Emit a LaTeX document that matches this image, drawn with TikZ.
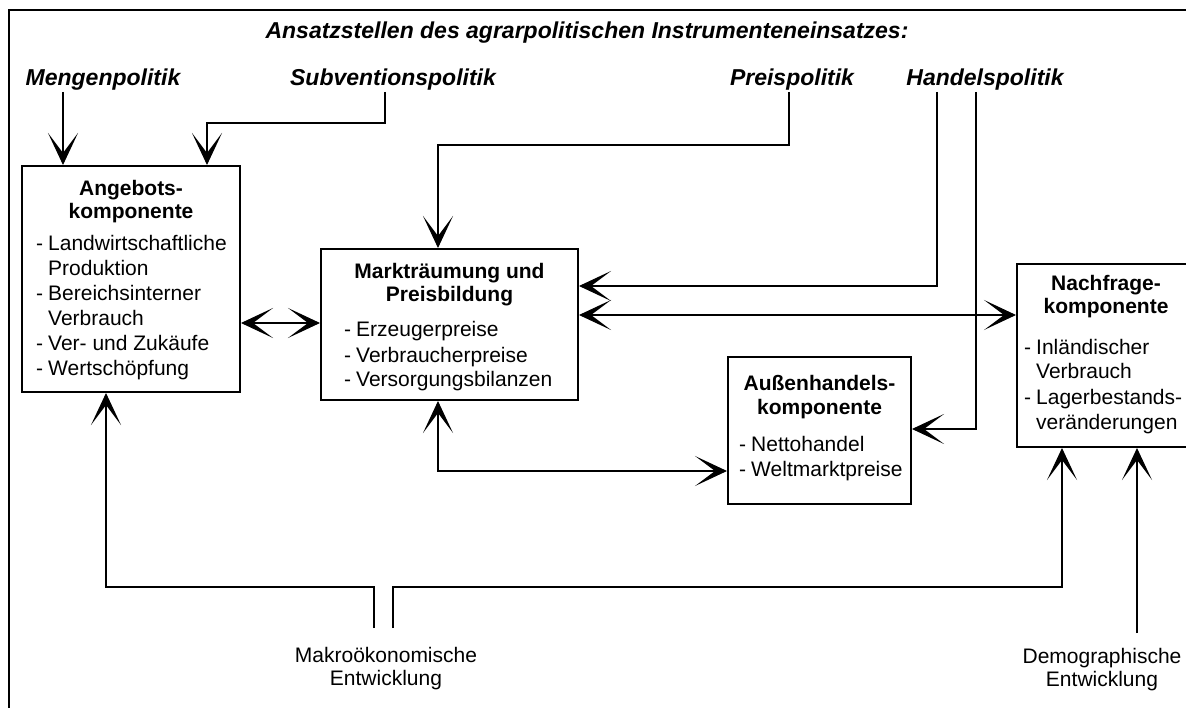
\documentclass[tikz,border=0pt]{standalone}
\usepackage{fontspec}
\setmainfont{Liberation Sans}
\usetikzlibrary{arrows.meta}
\newcommand{\itemlist}[1]{\begin{tabular}{@{}l@{\hspace{5pt}}l@{}}#1\end{tabular}}
\tikzset{
  ln/.style={line width=2pt},
  arr/.style={ln,-{Stealth[length=32pt,width=30pt,inset=20pt,line width=1pt]}},
  darr/.style={ln,{Stealth[length=32pt,width=30pt,inset=20pt,line width=1pt]}-{Stealth[length=32pt,width=30pt,inset=20pt,line width=1pt]}},
  box/.style={draw,line width=2pt,inner sep=0pt},
  pol/.style={font=\fontsize{23}{27}\selectfont\bfseries\itshape,inner sep=0pt},
  ttl/.style={font=\fontsize{21}{23.5}\selectfont\bfseries,align=center,inner sep=0pt},
  lst/.style={font=\fontsize{21}{25}\selectfont,anchor=west,inner sep=0pt},
  lbl/.style={font=\fontsize{21}{23.5}\selectfont,align=center,inner sep=0pt},
}
\begin{document}
\begin{tikzpicture}[x=1pt,y=-1pt]
\useasboundingbox (0,0) rectangle (1186,708);
% frame
\coordinate (f1) at (8.5,708);
\coordinate (f2) at (8.5,10);
\coordinate (f3) at (1190,10);
\draw[ln] (f1) -- (f2) -- (f3);
% headings
\node[pol] (ans) at (587,33) {Ansatzstellen des agrarpolitischen Instrumenteneinsatzes:};
\node[pol] (meng) at (103,80) {Mengenpolitik};
\node[pol] (subv) at (393,80) {Subventionspolitik};
\node[pol] (preis) at (792,80) {Preispolitik};
\node[pol] (hand) at (985,80) {Handelspolitik};
% boxes
\node[box,minimum width=218pt,minimum height=226pt] (ang) at (131,279) {};
\node[ttl] (angT) at (131,201.5) {Angebots-\\komponente};
\node[lst] (angL) at (36,308.5) {\itemlist{-&Landwirtschaftliche\\&Produktion\\-&Bereichsinterner\\&Verbrauch\\-&Ver- und Zukäufe\\-&Wertschöpfung}};
\node[box,minimum width=257pt,minimum height=151pt] (markt) at (449.5,324.5) {};
\node[ttl] (marktT) at (449.5,284.5) {Markträumung und\\Preisbildung};
\node[lst] (marktL) at (344,357) {\itemlist{-&Erzeugerpreise\\-&Verbraucherpreise\\-&Versorgungsbilanzen}};
\node[box,minimum width=183pt,minimum height=147pt] (aussen) at (819.5,430.5) {};
\node[ttl] (aussenT) at (819.5,397) {Außenhandels-\\komponente};
\node[lst] (aussenL) at (739,458.5) {\itemlist{-&Nettohandel\\-&Weltmarktpreise}};
\node[box,minimum width=178pt,minimum height=183pt] (nach) at (1106,355.5) {};
\node[ttl] (nachT) at (1106,296.5) {Nachfrage-\\komponente};
\node[lst] (nachL) at (1024,386.5) {\itemlist{-&Inländischer\\&Verbrauch\\-&Lagerbestands-\\&veränderungen}};
% bottom labels
\node[lbl] (makro) at (386,668.5) {Makroökonomische\\Entwicklung};
\node[lbl] (demo) at (1102,669.5) {Demographische\\Entwicklung};
% policy connectors
\coordinate (mS) at (63,92);
\draw[arr] (mS) -- (mS |- ang.north);
\coordinate (sS) at (385,92);
\coordinate (sB) at (207,123);
\draw[arr] (sS) |- (sB) -- (sB |- ang.north);
\coordinate (pS) at (789,92);
\coordinate (pB) at (438,145);
\draw[arr] (pS) |- (pB) -- (pB |- markt.north);
\coordinate (hL) at (937,92);
\coordinate (hLb) at (937,286);
\draw[arr] (hL) -- (hLb) -- (hLb -| markt.east);
\coordinate (hR) at (976,92);
\coordinate (hRb) at (976,429);
\draw[arr] (hR) -- (hRb) -- (hRb -| aussen.east);
% component connectors
\coordinate (mn) at (0,315);
\draw[darr] (mn -| markt.east) -- (mn -| nach.west);
\coordinate (am) at (0,323);
\draw[darr] (am -| ang.east) -- (am -| markt.west);
\coordinate (ma) at (438,471);
\draw[darr] (ma |- markt.south) -- (ma) -- (ma -| aussen.west);
% macro / demographic connectors
\coordinate (k1) at (374,628);
\coordinate (k2) at (393,628);
\coordinate (kY) at (0,587);
\coordinate (aX) at (106,0);
\coordinate (nX) at (1062,0);
\draw[arr] (k1) -- (k1 |- kY) -- (aX |- kY) -- (aX |- ang.south);
\draw[arr] (k2) -- (k2 |- kY) -- (nX |- kY) -- (nX |- nach.south);
\coordinate (dS) at (1137,633);
\draw[arr] (dS) -- (dS |- nach.south);
\end{tikzpicture}
\end{document}
